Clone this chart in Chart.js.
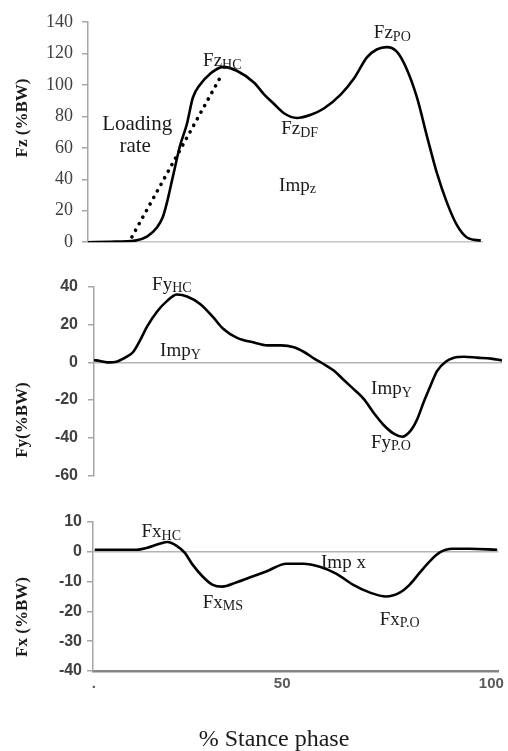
<!DOCTYPE html>
<html>
<head>
<meta charset="utf-8">
<script src="https://cdn.jsdelivr.net/npm/chart.js@4.4.0/dist/chart.umd.min.js"></script>
<style>
  html, body { margin: 0; padding: 0; background: #fff; }
  #wrap { position: relative; width: 508px; height: 751px; overflow: hidden; }
  canvas { position: absolute; left: 0; }
</style>
</head>
<body>
<div id="wrap">
  <canvas id="fz" style="top:0px" width="508" height="262"></canvas>
  <canvas id="fy" style="top:262px" width="508" height="233"></canvas>
  <canvas id="fx" style="top:495px" width="508" height="256"></canvas>
</div>
<script>
// % stance phase (shared x range for the three panels)
const stanceMin = 4.8;
const stanceMax = 101.7;
const stanceTicks = [5, 50, 100];
const stanceTickLabels = ['.', '50', '100'];

// vertical force Fz (%BW)
const fzStance = [4.8, 10.2, 16.4, 19.3, 21.8, 23.2, 24.2, 25.7, 27.4, 29.1, 30.6, 32.3, 34.8, 38.0, 41.4,
  45.6, 48.1, 50.5, 53.0, 56.2, 59.6, 62.8, 67.0, 70.2, 73.4, 75.8, 78.3, 80.8, 83.2, 85.7, 88.2, 90.6,
  93.1, 95.5, 98.0, 101.4];
const fzValues = [0, 0.3, 1, 3.5, 9.5, 16, 25, 42, 61, 75, 92, 100, 107, 111.5, 109,
  101.5, 94, 88, 82, 79, 81, 85, 94, 104, 117.5, 122.5, 124, 121, 110, 92, 67, 44,
  25, 11, 3, 1];
// loading rate line
const loadStance = [15.6, 37.8];
const loadValues = [3.4, 107];

// antero-posterior force Fy (%BW)
const fyStance = [4.8, 6.2, 7.9, 10.3, 12.6, 14.1, 15.7, 17.4, 19.8, 22.1, 24.5, 26.9, 30.0, 33.1, 35.4,
  38.8, 42.8, 45.9, 49.2, 52.3, 54.7, 57.1, 59.4, 61.8, 64.2, 66.6, 68.9, 71.3, 73.7, 76.1, 78.0, 80.1,
  81.5, 83.2, 84.8, 86.3, 88.4, 90.3, 92.7, 95.8, 99.1, 101.7];
const fyValues = [1.2, 0.7, 0, 0.5, 3, 5.5, 11.5, 19, 27, 32.5, 36, 35, 31, 24, 18,
  13, 10.5, 9, 9, 8, 5.5, 2, -1, -4.5, -9.5, -14.5, -19.5, -27, -33.5, -38, -39.5, -36,
  -30.5, -20.5, -12, -4.5, 0.5, 2.5, 3, 2.5, 2, 1];

// medio-lateral force Fx (%BW)
const fxStance = [5.2, 15.2, 17.6, 20.7, 22.6, 24.8, 26.7, 28.6, 31.0, 33.3, 35.7, 39.0, 42.9, 46.2,
  51.0, 55.0, 59.0, 62.9, 66.9, 71.0, 74.8, 78.1, 80.5, 82.9, 85.2, 87.6, 90.7, 94.8, 101.4];
const fxValues = [0.7, 0.7, 1.3, 2.7, 3.3, 2, -0.3, -4.3, -8.3, -11, -11.7, -10.3, -8.3, -6.6,
  -4, -4, -5, -7.3, -11, -13.7, -15, -13.7, -11, -7, -3.3, -0.3, 1, 1, 0.7];

const SERIF = '"Liberation Serif", "Times New Roman", serif';
const SANS = '"Liberation Sans", Arial, sans-serif';
const AXIS_GREY = '#a6a6a6';

function points(xs, ys) {
  return xs.map((x, i) => ({ x: x, y: ys[i] }));
}

// text notes in data coordinates, axis titles in canvas pixels
const notesPlugin = {
  id: 'notes',
  afterDatasetsDraw(chart, args, opts) {
    const { ctx } = chart;
    const xs = chart.scales.x, ys = chart.scales.y;
    ctx.save();
    ctx.fillStyle = '#1a1a1a';
    ctx.textBaseline = 'middle';
    (opts.items || []).forEach(n => {
      const px = xs.getPixelForValue(n.x);
      const py = ys.getPixelForValue(n.y);
      ctx.font = (n.size || 19) + 'px ' + SERIF;
      ctx.textAlign = n.align || 'left';
      ctx.fillText(n.text, px, py);
      if (n.sub) {
        const w = ctx.measureText(n.text).width;
        ctx.font = '14px ' + SERIF;
        ctx.textAlign = 'left';
        ctx.fillText(n.sub, px + w, py + 4);
      }
    });
    (opts.titles || []).forEach(t => {
      ctx.save();
      ctx.translate(t.x, t.y);
      if (t.rotate) ctx.rotate(-Math.PI / 2);
      ctx.font = t.font;
      ctx.fillStyle = '#1a1a1a';
      ctx.textAlign = 'center';
      ctx.fillText(t.text, 0, 0);
      ctx.restore();
    });
    ctx.restore();
  }
};

function yAxis(min, max, width, tickFont, tickPad, zeroLine) {
  return {
    min: min,
    max: max,
    ticks: { stepSize: min < 0 && max <= 10 ? 10 : 20, color: '#404040', font: tickFont, padding: tickPad },
    grid: {
      drawOnChartArea: zeroLine,
      color: ctx => (ctx.tick && ctx.tick.value === 0 ? '#b3b3b3' : 'rgba(0,0,0,0)'),
      lineWidth: 1.5,
      tickLength: 6,
      tickColor: AXIS_GREY
    },
    border: { color: AXIS_GREY, width: 1.5 },
    afterFit: s => { s.width = width; }
  };
}

const baseOptions = {
  responsive: false,
  animation: false,
  plugins: { legend: { display: false }, tooltip: { enabled: false } }
};

const curveStyle = {
  borderColor: '#000',
  borderWidth: 2.6,
  pointRadius: 0,
  cubicInterpolationMode: 'monotone',
  fill: false
};

// Panel 1: Fz
new Chart(document.getElementById('fz'), {
  type: 'line',
  data: {
    datasets: [
      Object.assign({ data: points(fzStance, fzValues) }, curveStyle),
      {
        data: points(loadStance, loadValues),
        borderColor: '#000',
        borderWidth: 3.6,
        borderDash: [0.1, 7.4],
        borderCapStyle: 'round',
        pointRadius: 0
      }
    ]
  },
  options: Object.assign({}, baseOptions, {
    layout: { padding: { top: 22, right: 26, left: 0, bottom: 0 } },
    scales: {
      x: {
        type: 'linear', min: stanceMin, max: stanceMax,
        ticks: { display: false },
        grid: { display: false, drawTicks: false },
        border: { color: '#c4c4c4', width: 1.5 },
        afterFit: s => { s.height = 13.5; }
      },
      y: yAxis(0, 140, 88, { family: SERIF, size: 18 }, 9, false)
    },
    plugins: Object.assign({}, baseOptions.plugins, {
      notes: {
        items: [
          { text: 'Fz', sub: 'HC', x: 33.1, y: 115.3 },
          { text: 'Loading', x: 16.9, y: 75, align: 'center', size: 21 },
          { text: 'rate', x: 16.4, y: 61, align: 'center', size: 21 },
          { text: 'Fz', sub: 'PO', x: 75.1, y: 133 },
          { text: 'Fz', sub: 'DF', x: 52.3, y: 72 },
          { text: 'Imp', sub: 'z', x: 51.8, y: 36 }
        ],
        titles: [{ text: 'Fz (%BW)', x: 23, y: 118, rotate: true, font: 'bold 17px ' + SERIF }]
      }
    })
  }),
  plugins: [notesPlugin]
});

// Panel 2: Fy
new Chart(document.getElementById('fy'), {
  type: 'line',
  data: { datasets: [Object.assign({ data: points(fyStance, fyValues) }, curveStyle)] },
  options: Object.assign({}, baseOptions, {
    layout: { padding: { top: 25, right: 6, left: 0, bottom: 8 } },
    scales: {
      x: { type: 'linear', min: stanceMin, max: stanceMax, display: false },
      y: yAxis(-60, 40, 94, { family: SANS, size: 16, weight: 'bold' }, 10, true)
    },
    plugins: Object.assign({}, baseOptions.plugins, {
      notes: {
        items: [
          { text: 'Fy', sub: 'HC', x: 18.6, y: 41.2 },
          { text: 'Imp', sub: 'Y', x: 20.5, y: 5.8 },
          { text: 'Imp', sub: 'Y', x: 70.6, y: -14.4 },
          { text: 'Fy', sub: 'P.O', x: 70.6, y: -42.7 }
        ],
        titles: [{ text: 'Fy(%BW)', x: 23, y: 158, rotate: true, font: 'bold 17px ' + SERIF }]
      }
    })
  }),
  plugins: [notesPlugin]
});

// Panel 3: Fx
new Chart(document.getElementById('fx'), {
  type: 'line',
  data: { datasets: [Object.assign({ data: points(fxStance, fxValues) }, curveStyle)] },
  options: Object.assign({}, baseOptions, {
    layout: { padding: { top: 27, right: 8, left: 0, bottom: 0 } },
    scales: {
      x: {
        type: 'linear', min: stanceMin, max: stanceMax,
        afterBuildTicks: s => { s.ticks = stanceTicks.map(v => ({ value: v })); },
        ticks: {
          color: '#595959', font: { family: SANS, size: 15, weight: 'bold' }, padding: 4,
          maxRotation: 0, autoSkip: false,
          callback: v => stanceTickLabels[stanceTicks.indexOf(v)]
        },
        grid: { display: false, drawTicks: false },
        border: { color: '#858585', width: 2.5 },
        afterFit: s => { s.height = 80; }
      },
      y: yAxis(-40, 10, 93, { family: SANS, size: 16, weight: 'bold' }, 5, true)
    },
    plugins: Object.assign({}, baseOptions.plugins, {
      notes: {
        items: [
          { text: 'Fx', sub: 'HC', x: 16.4, y: 6.7 },
          { text: 'Fx', sub: 'MS', x: 31.0, y: -17.1 },
          { text: 'Imp x', x: 59.3, y: -3.7 },
          { text: 'Fx', sub: 'P.O', x: 73.3, y: -22.8 }
        ],
        titles: [
          { text: 'Fx (%BW)', x: 23, y: 122, rotate: true, font: 'bold 17px ' + SERIF },
          { text: '% Stance phase', x: 274, y: 245, rotate: false, font: '24px ' + SERIF }
        ]
      }
    })
  }),
  plugins: [notesPlugin]
});
</script>
</body>
</html>
